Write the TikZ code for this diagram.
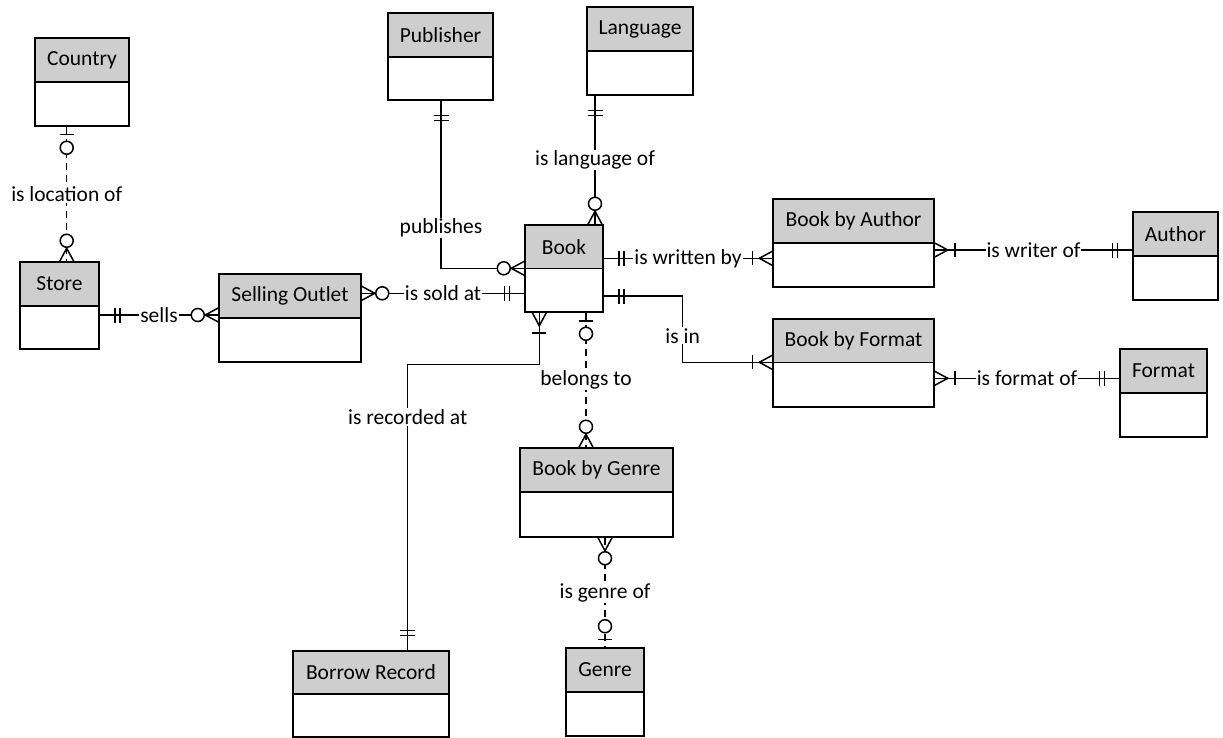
\documentclass[tikz,border=0pt]{standalone}
\usepackage{fontspec}
\setmainfont{Carlito}
\usetikzlibrary{fit}
\definecolor{hdrgray}{RGB}{206,206,206}
\newcommand\erfont{\fontsize{21.5}{25}\selectfont}
\tikzset{
  hdr/.style={draw, fill=hdrgray, inner sep=0pt},
  bdy/.style={draw, fill=white, inner sep=0pt},
  lbl/.style={fill=white, inner sep=1pt, font=\erfont},
  erdash/.style={dash pattern=on 7pt off 5pt},
  erbars/.pic={\draw (15,-7.5)--(15,7.5) (20,-7.5)--(20,7.5);},
  erzeroone/.pic={\draw (8,-7)--(8,7); \draw[fill=white] (21,0) circle (6.5);},
  erzeromany/.pic={\draw (0,-7)--(13,0)--(0,7); \draw[fill=white] (20.5,0) circle (6.5);},
  eronemany/.pic={\draw (0,-7)--(13,0)--(0,7); \draw (20,-7)--(20,7);},
}
% name, x1, y1, x2, ysplit, y2, text
\newcommand\erentity[7]{%
  \node[bdy, fit={(#2,#5) (#4,#6)}] (#1b) {};
  \node[hdr, fit={(#2,#3) (#4,#5)}, label={[font=\erfont]center:#7}] (#1h) {};
  \node[inner sep=0pt, fit={(#2,#3) (#4,#6)}] (#1) {};
}
\begin{document}
\begin{tikzpicture}[x=1pt,y=-1pt,line width=1.5pt]
\useasboundingbox (0,0) rectangle (1223,738);
% entities
\erentity{country}{35}{38}{129}{82}{126}{Country}
\erentity{store}{20}{262}{99}{306}{349}{Store}
\erentity{selling}{219}{274}{361}{318}{362}{Selling Outlet}
\erentity{publisher}{388}{13}{493}{57}{100}{Publisher}
\erentity{language}{587}{7}{693}{51}{95}{Language}
\erentity{book}{525}{225}{603}{268.3}{312}{Book}
\erentity{bba}{773}{199}{934}{243}{287}{Book by Author}
\erentity{bbf}{773}{319}{934}{362.3}{407}{Book by Format}
\erentity{author}{1133}{212}{1218}{256}{300}{Author}
\erentity{format}{1120}{349}{1207}{393}{437}{Format}
\erentity{bbg}{520}{448}{673}{492}{537}{Book by Genre}
\erentity{genre}{566}{648}{644}{692}{736}{Genre}
\erentity{borrow}{293}{651}{449}{694}{737}{Borrow Record}
% connection points
\coordinate (cs1) at (country.south -| 66.7,0);
\coordinate (cs2) at (store.north -| 66.7,0);
\coordinate (ss1) at (store.east |- 0,315);
\coordinate (ss2) at (selling.west |- 0,315);
\coordinate (sb1) at (selling.east |- 0,293.3);
\coordinate (sb2) at (book.west |- 0,293.3);
\coordinate (pb1) at (publisher.south -| 441,0);
\coordinate (pb2) at (book.west |- 0,268.3);
\coordinate (lb1) at (language.south -| 595,0);
\coordinate (lb2) at (book.north -| 595,0);
\coordinate (ba1) at (book.east |- 0,258.3);
\coordinate (ba2) at (bba.west |- 0,258.3);
\coordinate (aa1) at (bba.east |- 0,250);
\coordinate (aa2) at (author.west |- 0,250);
\coordinate (bf1) at (book.east |- 0,296);
\coordinate (bfm) at (682.7,296);
\coordinate (bf2) at (bbf.west |- 0,362.3);
\coordinate (ff1) at (bbf.east |- 0,378.3);
\coordinate (ff2) at (format.west |- 0,378.3);
\coordinate (br1) at (book.south -| 539.3,0);
\coordinate (brm) at (539.3,364.3);
\coordinate (br2) at (borrow.north -| 407.7,0);
\coordinate (bg1) at (book.south -| 586,0);
\coordinate (bg2) at (bbg.north -| 586,0);
\coordinate (gg1) at (bbg.south -| 605,0);
\coordinate (gg2) at (genre.north -| 605,0);
% connectors
\draw[erdash] (cs1) -- node[lbl]{is location of} (cs2);
\draw (ss1) -- node[lbl]{sells} (ss2);
\draw (sb1) -- node[lbl]{is sold at} (sb2);
\draw (pb1) |- (pb2);
\node[lbl] (pblbl) at (pb1 |- 0,228) {publishes};
\draw (lb1) -- node[lbl]{is language of} (lb2);
\draw (ba1) -- node[lbl]{is written by} (ba2);
\draw (aa1) -- node[lbl]{is writer of} (aa2);
\draw (bf1) -- (bfm) |- (bf2);
\node[lbl] (bflbl) at (bfm |- 0,335.7) {is in};
\draw (ff1) -- node[lbl]{is format of} (ff2);
\draw (br1) -- (brm) -| (br2);
\node[lbl] (brlbl) at (br2 |- 0,417) {is recorded at};
\draw[erdash] (bg1) -- node[lbl]{belongs to} (bg2);
\draw[erdash] (gg1) -- node[lbl]{is genre of} (gg2);
% end symbols
\path (cs1) pic[rotate=-90]{erzeroone};
\path (cs2) pic[rotate=90]{erzeromany};
\path (ss1) pic{erbars};
\path (ss2) pic[rotate=180]{erzeromany};
\path (sb1) pic{erzeromany};
\path (sb2) pic[rotate=180]{erbars};
\path (pb1) pic[rotate=-90]{erbars};
\path (pb2) pic[rotate=180]{erzeromany};
\path (lb1) pic[rotate=-90]{erbars};
\path (lb2) pic[rotate=90]{erzeromany};
\path (ba1) pic{erbars};
\path (ba2) pic[rotate=180]{eronemany};
\path (aa1) pic{eronemany};
\path (aa2) pic[rotate=180]{erbars};
\path (bf1) pic{erbars};
\path (bf2) pic[rotate=180]{eronemany};
\path (ff1) pic{eronemany};
\path (ff2) pic[rotate=180]{erbars};
\path (br1) pic[rotate=-90]{eronemany};
\path (br2) pic[rotate=90]{erbars};
\path (bg1) pic[rotate=-90]{erzeroone};
\path (bg2) pic[rotate=90]{erzeromany};
\path (gg1) pic[rotate=-90]{erzeromany};
\path (gg2) pic[rotate=90]{erzeroone};
\end{tikzpicture}
\end{document}
